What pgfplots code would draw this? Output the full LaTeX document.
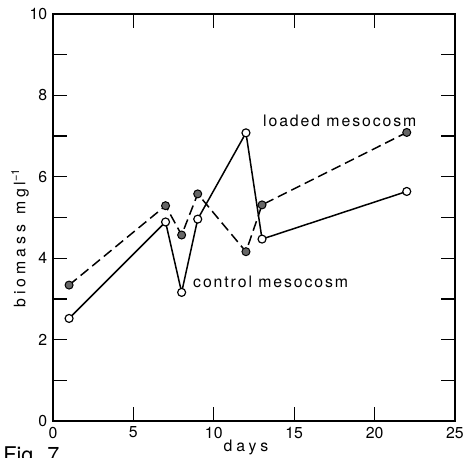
\documentclass[border=0pt]{standalone}
\usepackage{fontspec}
\setmainfont{TeX Gyre Heros}
\newfontfamily\spaced[LetterSpace=25]{TeX Gyre Heros}
\newfontfamily\lightspaced[LetterSpace=12]{TeX Gyre Heros}
\usepackage{pgfplots}
\pgfplotsset{compat=1.18}

\begin{document}
\begin{tikzpicture}
% page = 465 x 457 px at 0.6pt per px
\useasboundingbox (-31.8pt,-21.6pt) rectangle (247.2pt,252.6pt);
\begin{axis}[
  at={(0,0)}, anchor=south west,
  scale only axis, width=241.2pt, height=244.2pt,
  xmin=0, xmax=25, ymin=0, ymax=10,
  xtick={0,5,...,25}, ytick={0,2,...,10},
  minor ytick={1,3,...,9},
  xtick pos=both, ytick pos=both,
  xticklabel pos=left, yticklabel pos=left,
  tick align=inside,
  major tick length=8.4pt, minor tick length=8.4pt,
  tick style={black, line width=0.8pt},
  axis line style={line width=0.9pt},
  /pgf/number format/assume math mode=true,
  ticklabel style={font=\fontsize{9.5}{11}\selectfont},
  clip=false,
]
% control mesocosm
\addplot[black, line width=0.9pt, mark=*, mark size=2.4pt,
  mark options={fill=white, line width=0.7pt}]
  coordinates {
    (1,2.52) (7,4.89) (8,3.16) (9,4.96) (12,7.08) (13,4.47) (22,5.64)
  };
% loaded mesocosm
\addplot[black, line width=0.9pt, dash pattern=on 6pt off 3pt,
  mark=*, mark size=2.4pt,
  mark options={solid, fill=black!60, line width=0.6pt}]
  coordinates {
    (1,3.34) (7,5.29) (8,4.57) (9,5.58) (12,4.16) (13,5.31) (22,7.09)
  };
\node[anchor=west, inner sep=0pt, font=\fontsize{9.5}{11}\lightspaced]
  at (axis cs:13.05,7.38) {loaded mesocosm};
\node[anchor=west, inner sep=0pt, font=\fontsize{9.5}{11}\lightspaced]
  at (axis cs:8.7,3.42) {control mesocosm};
\node[rotate=90, inner sep=0pt, font=\fontsize{9.5}{11}\selectfont]
  at (rel axis cs:-0.082,0.45) {{\spaced biomass}\hspace{6pt}{\spaced mgl}\textsuperscript{−1}};
\node[inner sep=0pt, font=\fontsize{9.5}{11}\spaced]
  at (rel axis cs:0.48,-0.064) {days};
\node[anchor=north west, inner sep=0pt, font=\fontsize{13}{15}\selectfont]
  at (-30pt,-15pt) {Fig. 7};
\end{axis}
\end{tikzpicture}
\end{document}
